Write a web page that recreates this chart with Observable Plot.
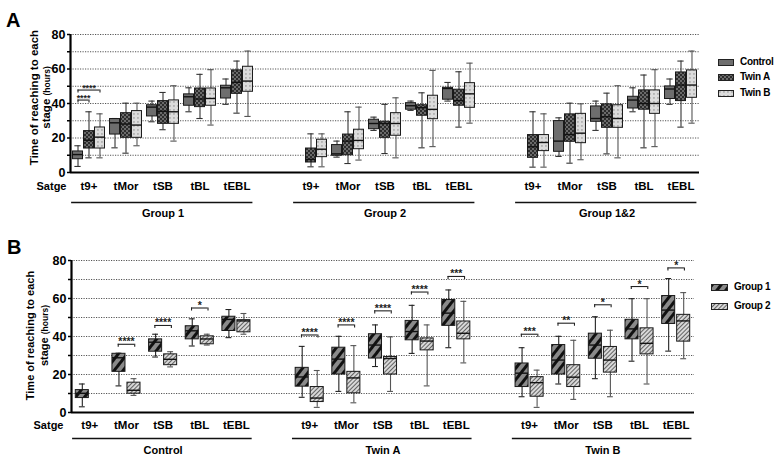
<!DOCTYPE html>
<html><head><meta charset="utf-8">
<script src="https://cdn.jsdelivr.net/npm/d3@7"></script>
<script src="https://cdn.jsdelivr.net/npm/@observablehq/plot@0.6"></script>
<style>
body{margin:0;background:#fff;font-family:"Liberation Sans",Arial,sans-serif;font-weight:bold;color:#000;}
#wrap{position:relative;width:775px;height:465px;overflow:hidden;background:#fff;}
.plbl{position:absolute;font-size:20px;line-height:20px;}
.ytitle{position:absolute;width:200px;text-align:center;transform:rotate(-90deg);white-space:nowrap;}
.small{font-size:8.5px;}
.leg{position:absolute;font-size:10px;line-height:12px;height:12px;display:flex;align-items:center;white-space:nowrap;letter-spacing:-0.3px;}
.leg svg{margin-right:6px;display:block;}
</style></head><body>
<svg width="0" height="0" style="position:absolute">
<defs>
<pattern id="pA_twinA" width="4" height="4" patternUnits="userSpaceOnUse">
 <rect width="4" height="4" fill="#2c2c2c"/>
 <rect x="0.3" y="0.3" width="1.4" height="1.4" fill="#aaaaaa"/>
 <rect x="2.3" y="2.3" width="1.4" height="1.4" fill="#aaaaaa"/>
</pattern>
<pattern id="pA_twinB" width="4" height="4" patternUnits="userSpaceOnUse">
 <rect width="4" height="4" fill="#dcdcdc"/>
 <rect x="1.4" y="1.4" width="1.1" height="1.1" fill="#6a6a6a"/>
</pattern>
<pattern id="pB_g1" width="7" height="7" patternUnits="userSpaceOnUse" patternTransform="rotate(38)">
 <rect width="7" height="7" fill="#8a8a8a"/>
 <rect x="0" y="0" width="3" height="7" fill="#111"/>
</pattern>
<pattern id="pB_g2" width="3" height="3" patternUnits="userSpaceOnUse" patternTransform="rotate(45)">
 <rect width="3" height="3" fill="#d8d8d8"/>
 <rect x="0" y="0" width="0.9" height="3" fill="#555"/>
</pattern>
</defs>
</svg>
<div id="wrap">
 <div class="plbl" style="left:6px;top:10px;">A</div>
 <div class="plbl" style="left:7px;top:237px;">B</div>
 <div class="ytitle" style="left:-60px;top:85px;font-size:11.5px;line-height:12px;">Time of reaching to each<br>stage <span class="small">(hours)</span></div>
 <div class="ytitle" style="left:-63px;top:321px;font-size:11px;line-height:14px;">Time of reaching to each<br>stage <span class="small">(hours)</span></div>
</div>
<script>
// ---------- DATA ----------
const stages = ["t9+", "tMor", "tSB", "tBL", "tEBL"];
const groupsA = ["Group 1", "Group 2", "Group 1&2"];
const seriesA = ["Control", "Twin A", "Twin B"];
const groupsB = ["Control", "Twin A", "Twin B"];
const seriesB = ["Group 1", "Group 2"];
const axisTicks = [0, 10, 20, 30, 40, 50, 60, 70, 80];

// each entry: [min, q1, median, q3, max] per stage (null = no box)
// Panel A
const aG1Control = [[3.5,7.7,10.4,12.2,15.5],[14.3,22,28.8,31,31.3],[29.4,32.5,37.9,39,41.4],[35.2,38.7,43.9,45.3,49.1],[39.5,42.9,49.1,50.3,54.2]];
const aG1TwinA   = [[8.5,13.9,18.7,24,35.2],[11.2,20.1,28.1,34.4,40.2],[24.8,28.2,35.5,41.4,46.4],[31.3,37.9,42.6,48.7,56.9],[34.4,45.6,52.3,59.2,64.6]];
const aG1TwinB   = [[8.5,13.9,20.5,26.1,34],[15.5,20.1,27.5,35.6,40.2],[18.2,28.2,35.2,41.8,50.3],[27.5,38.7,42.9,48.7,59.6],[32.5,46.8,53,61.3,70.4]];
const aG2Control = [null,[8.9,9.7,10.8,15.9,18.2],[24.4,25.1,28.4,30.6,32.1],[36,36.4,38.7,40.2,41.4],[41.4,42.2,48.7,49.1,52.2]];
const aG2TwinA   = [[3.3,5.8,7.6,13.9,22.4],[5.2,10,18.2,22,35.2],[11,20.1,28.4,29.4,39.5],[14.3,32.9,37.6,39,46.2],[26.3,38.7,41.7,48,58.4]];
const aG2TwinB   = [[3.3,8.9,13.5,19,22.4],[7.2,13.5,18.6,24.8,37.9],[8.5,21.3,28.4,34.4,43.3],[15,30.9,36.6,44.5,59.2],[28.6,37.5,45.6,51.8,63.4]];
const aG12Control= [null,[9.3,12,18.2,29.8,31.7],[24.4,29.4,31.3,38.3,41.4],[35.2,37.1,42,43.9,49.1],[39.5,42.6,48.4,49.9,54.2]];
const aG12TwinA  = [[3.1,8.5,14.9,21.7,35.2],[5.4,17.8,22,33.7,40.2],[10.8,25.9,32.3,39.5,46],[14.3,36.4,40,47.6,56.5],[26.3,41.4,50.7,58,64.6]];
const aG12TwinB  = [[3.1,12.4,17.4,21.7,34],[7.4,17,22.8,34,39.8],[8.5,25.9,31.3,39,50.3],[15,34,40,47.6,59.6],[28.6,43.3,50.7,59.2,70.4]];
// Panel B
const bControlG1 = [[3,7.6,10.1,11.8,15],[14,21.4,28.8,30.9,31.2],[29.2,32,37,38.5,41.2],[35,38.5,43,45.4,49.3],[39.4,42.9,49,50.4,54.2]];
const bControlG2 = [null,[9,9.9,11.7,15.7,17.8],[24,24.9,28,30.6,32],[35.5,35.9,38.7,40.1,41.2],[41.2,42.2,48.2,48.6,52.1]];
const bTwinAG1   = [[8,13.6,18.7,23.5,34.8],[11.1,20,28.1,34.1,40.1],[24.2,28.4,35.5,41.2,46.1],[31.1,38,42.6,48.2,56.4],[34.1,45.6,52.3,59.2,64.5]];
const bTwinAG2   = [[2.7,5.5,7.6,13.4,22.1],[5.1,10.1,18.2,21.4,35.2],[11.1,20,28.4,29.2,39.8],[14,32.7,37.6,39,46.1],[26.1,38.5,41.7,47.9,58.5]];
const bTwinBG1   = [[8.3,13.4,20.7,25.8,34.1],[15,20,27.6,35.5,40.1],[17.8,28.3,35.5,41.5,50.4],[27,38.5,44,48.8,59.9],[32.3,46.6,53.9,61.3,70.5]];
const bTwinBG2   = [[2.7,8.3,15.7,18.6,22.3],[6.9,13.4,18.6,24.9,38],[8.3,21,27.6,34.5,43.3],[15,30.6,36.4,44.3,59.9],[28.3,37.3,48.2,51.4,63.1]];

// significance brackets
const sigA = [
  {group: "Group 1", stage: "t9+", a: "Control", b: "Twin A", y: 42, label: "****"},
  {group: "Group 1", stage: "t9+", a: "Control", b: "Twin B", y: 47.8, label: "****"}
];
const sigB = [
  {group: "Control", stage: "tMor", y: 35.9, label: "****"},
  {group: "Control", stage: "tSB", y: 45.8, label: "****"},
  {group: "Control", stage: "tBL", y: 55, label: "*"},
  {group: "Twin A", stage: "t9+", y: 40.8, label: "****"},
  {group: "Twin A", stage: "tMor", y: 46.1, label: "****"},
  {group: "Twin A", stage: "tSB", y: 53.5, label: "****"},
  {group: "Twin A", stage: "tBL", y: 63.4, label: "****"},
  {group: "Twin A", stage: "tEBL", y: 71.6, label: "***"},
  {group: "Twin B", stage: "t9+", y: 41.2, label: "***"},
  {group: "Twin B", stage: "tMor", y: 47, label: "**"},
  {group: "Twin B", stage: "tSB", y: 56.7, label: "*"},
  {group: "Twin B", stage: "tBL", y: 66.3, label: "*"},
  {group: "Twin B", stage: "tEBL", y: 76.1, label: "*"}
];

// ---------- BUILD ----------
const tableA = [[aG1Control, aG1TwinA, aG1TwinB],[aG2Control, aG2TwinA, aG2TwinB],[aG12Control, aG12TwinA, aG12TwinB]];
const tableB = [[bControlG1, bControlG2],[bTwinAG1, bTwinAG2],[bTwinBG1, bTwinBG2]];

function buildRows(groups, series, table) {
  const rows = [];
  groups.forEach((g, gi) => series.forEach((s, si) => table[gi][si].forEach((st, k) => {
    if (st) rows.push({group: g, series: s, si, slot: gi * 6 + k, min: st[0], q1: st[1], med: st[2], q3: st[3], max: st[4]});
  })));
  return rows;
}
function stageRows(groups) {
  const r = [];
  groups.forEach((g, gi) => stages.forEach((s, k) => r.push({stage: s, slot: gi * 6 + k})));
  return r;
}
function groupRows(groups) {
  return groups.map((g, gi) => ({group: g, start: gi * 6, end: gi * 6 + stages.length - 1}));
}

function makePanel(o) {
  const X = d => d.slot + o.off[d.si];
  const sig = o.sig.map(d => {
    const slot = o.groups.indexOf(d.group) * 6 + stages.indexOf(d.stage);
    const xa = slot + (d.a ? o.off[o.series.indexOf(d.a)] : -o.bw);
    const xb = slot + (d.b ? o.off[o.series.indexOf(d.b)] : o.bw);
    return {...d, xa, xb};
  });
  const sw = {stroke: d => o.whisk[d.si], strokeWidth: 1.1};
  return Plot.plot({
    width: o.width, height: o.height,
    marginLeft: o.ml, marginRight: o.mr, marginTop: o.mt, marginBottom: o.mb,
    x: {type: "linear", domain: [-0.5, 16.5], axis: null, label: null},
    y: {domain: [0, 80], label: null},
    color: {type: "identity"},
    style: {fontFamily: "'Liberation Sans', Arial, sans-serif", fontWeight: "bold", fontSize: "11px", background: "transparent", color: "#000"},
    marks: [
      Plot.ruleY(axisTicks.filter(t => t > 0), {stroke: "#555", strokeDasharray: "1.2,1.3", strokeWidth: 1}),
      Plot.ruleX(o.rows, {x: X, y1: "min", y2: "max", ...sw}),
      Plot.ruleY(o.rows, {y: "min", x1: d => X(d) - o.capw, x2: d => X(d) + o.capw, ...sw}),
      Plot.ruleY(o.rows, {y: "max", x1: d => X(d) - o.capw, x2: d => X(d) + o.capw, ...sw}),
      Plot.rect(o.rows, {x1: d => X(d) - o.hw, x2: d => X(d) + o.hw, y1: "q1", y2: "q3", fill: d => o.fills[d.si], stroke: "#1a1a1a", strokeWidth: 1}),
      Plot.ruleY(o.rows, {y: "med", x1: d => X(d) - o.hw, x2: d => X(d) + o.hw, stroke: "#111", strokeWidth: 1.4}),
      // significance brackets
      Plot.ruleY(sig, {y: "y", x1: "xa", x2: "xb", stroke: "#222", strokeWidth: 1.1}),
      Plot.ruleX(sig, {x: "xa", y1: "y", y2: d => d.y - o.tick, stroke: "#222", strokeWidth: 1.1}),
      Plot.ruleX(sig, {x: "xb", y1: "y", y2: d => d.y - o.tick, stroke: "#222", strokeWidth: 1.1}),
      Plot.text(sig, {x: d => (d.xa + d.xb) / 2, y: "y", text: "label", lineAnchor: "bottom", dy: 1, fontSize: o.sigFont, fill: "#222"}),
      // axes
      Plot.axisY({ticks: axisTicks, tickFormat: d => d % 20 === 0 ? String(d) : "", tickSize: 3, tickPadding: 2, fontSize: 12.5, strokeWidth: 1.5}),
      Plot.ruleX([-0.5], {strokeWidth: 2.2, stroke: "#000"}),
      Plot.ruleY([0], {strokeWidth: 2.2, stroke: "#000"}),
      Plot.text(stageRows(o.groups), {x: "slot", y: 0, text: "stage", dy: o.dyStage, fontSize: 11.5}),
      Plot.text(["Satge"], {x: -0.5, y: 0, text: d => d, dx: o.dxSatge, dy: o.dyStage, textAnchor: "end", fontSize: 11}),
      Plot.ruleY(groupRows(o.groups), {y: 0, x1: d => d.start - 0.47, x2: d => d.end + 0.43, dy: o.dyLine, strokeWidth: 1.6, stroke: "#111"}),
      Plot.text(groupRows(o.groups), {x: d => (d.start + d.end) / 2, y: 0, text: "group", dy: o.dyGroup, fontSize: 11})
    ]
  });
}

const fillsA = ["#6e6e6e", "url(#pA_twinA)", "url(#pA_twinB)"];
const fillsB = ["url(#pB_g1)", "url(#pB_g2)"];

const svgA = makePanel({
  rows: buildRows(groupsA, seriesA, tableA), groups: groupsA, series: seriesA, sig: sigA,
  off: [-0.297, 0, 0.297], hw: 0.135, capw: 0.085, bw: 0.297, tick: 1.7, sigFont: 8.8,
  fills: fillsA, whisk: ["#333", "#333", "#555"],
  width: 705, height: 225, ml: 70, mr: 6, mt: 34, mb: 53,
  dyStage: 13.5, dyLine: 30, dyGroup: 40.5, dxSatge: -4
});
const svgB = makePanel({
  rows: buildRows(groupsB, seriesB, tableB), groups: groupsB, series: seriesB, sig: sigB,
  off: [-0.205, 0.205], hw: 0.178, capw: 0.08, bw: 0.225, tick: 1.6, sigFont: 10.5,
  fills: fillsB, whisk: ["#222", "#555"],
  width: 700, height: 235, ml: 71, mr: 6, mt: 30, mb: 53,
  dyStage: 12.5, dyLine: 26, dyGroup: 37.5, dxSatge: -8
});
const wrap = document.getElementById("wrap");
svgA.style.position = "absolute"; svgA.style.top = "0px"; svgA.style.left = "0px";
svgB.style.position = "absolute"; svgB.style.top = "230px"; svgB.style.left = "0px";
wrap.appendChild(svgA);
wrap.appendChild(svgB);

// legends
function legend(items, fills, left, tops, sw) {
  items.forEach((name, i) => {
    const div = document.createElement("div");
    div.className = "leg";
    div.style.left = left + "px";
    div.style.top = (tops[i] - 6) + "px";
    div.innerHTML = `<svg width="${sw}" height="7"><rect x="0.5" y="0.5" width="${sw - 1}" height="6" fill="${fills[i]}" stroke="#222" stroke-width="1"/></svg><span>${name}</span>`;
    wrap.appendChild(div);
  });
}
legend(seriesA, fillsA, 718, [62, 77, 93], 16);
legend(seriesB, fillsB, 711, [287, 306], 17);
</script>
</body></html>
